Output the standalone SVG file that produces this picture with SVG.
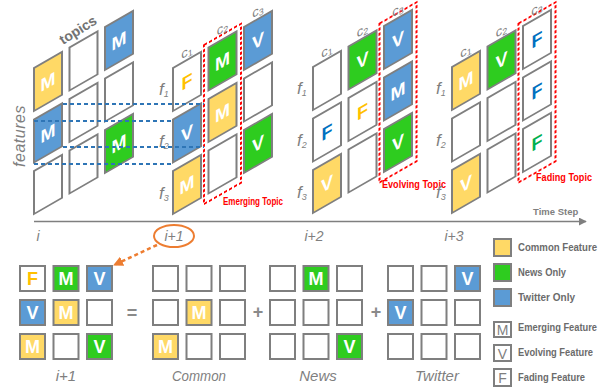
<svg xmlns="http://www.w3.org/2000/svg" width="609" height="389" viewBox="0 0 609 389">
<style>
.c{fill:#fff;stroke:#7f7f7f;stroke-width:2}
.y{fill:#FFD966}.g{fill:#2ECC1F}.b{fill:#5B9BD5}
.L{font-family:"Liberation Sans",Arial,sans-serif;font-weight:bold;font-size:18px;fill:#fff;text-anchor:middle}
.fo{fill:#FFC000}.fb{fill:#0070C0}.fg{fill:#00B050}
.rb{fill:none;stroke:#FF0000;stroke-width:2;stroke-dasharray:3 2}
.rt{font-family:"Liberation Sans",Arial,sans-serif;font-weight:bold;font-size:10.5px;fill:#FF0000}
.cl{font-family:"Liberation Sans",Arial,sans-serif;font-size:13px;fill:#7f7f7f;text-anchor:middle}
.fl{font-family:"Liberation Sans",Arial,sans-serif;font-style:italic;font-size:17px;fill:#7f7f7f}
.sub{font-size:9px}
.tl{font-family:"Liberation Sans",Arial,sans-serif;font-style:italic;font-size:14px;fill:#7f7f7f;text-anchor:middle}
.bl{font-family:"Liberation Sans",Arial,sans-serif;font-style:italic;font-size:15px;fill:#7f7f7f;text-anchor:middle}
.lg{font-family:"Liberation Sans",Arial,sans-serif;font-weight:bold;font-size:10.5px;fill:#6b6b6b}
.lm{font-family:"Liberation Sans",Arial,sans-serif;font-size:14px;fill:#7f7f7f;text-anchor:middle}
.op{font-family:"Liberation Sans",Arial,sans-serif;font-weight:bold;font-size:18px;fill:#8a8a8a;text-anchor:middle}
.bd{fill:none;stroke:#2E75B6;stroke-width:1.8;stroke-dasharray:4 3}
</style>
<defs>
<marker id="ga" viewBox="0 0 10 10" refX="9" refY="5" markerWidth="8" markerHeight="8" markerUnits="userSpaceOnUse" orient="auto"><path d="M0,0 L10,5 L0,10 z" fill="#7f7f7f"/></marker>
<marker id="oa" viewBox="0 0 10 10" refX="9" refY="5" markerWidth="10" markerHeight="10" markerUnits="userSpaceOnUse" orient="auto"><path d="M0,0 L10,5 L0,10 z" fill="#ED7D31"/></marker>
</defs>

<!-- Matrix i -->
<g id="matrix-i" transform="translate(34,68) skewY(-30)">
<rect class="c y" x="0" y="0" width="28" height="43"/><text class="L" x="14" y="28">M</text>
<rect class="c b" x="0" y="51.5" width="28" height="43"/><text class="L" x="14" y="79.5">M</text>
<rect class="c" x="0" y="103" width="28" height="43"/>
<rect class="c" x="35.5" y="0" width="28" height="43"/>
<rect class="c" x="35.5" y="51.5" width="28" height="43"/>
<rect class="c" x="35.5" y="103" width="28" height="43"/>
<rect class="c b" x="71" y="0" width="28" height="43"/><text class="L" x="85" y="28">M</text>
<rect class="c" x="71" y="51.5" width="28" height="43"/>
<rect class="c g" x="71" y="103" width="28" height="43"/><text class="L" x="85" y="131">M</text>
</g>
<g id="axis-labels">
<text transform="translate(63,45) rotate(-32)" font-family="Liberation Sans, Arial, sans-serif" font-weight="bold" font-size="14" fill="#737373">topics</text>
<text transform="translate(25,136) rotate(-90)" font-family="Liberation Sans, Arial, sans-serif" font-style="italic" font-size="16" fill="#7f7f7f" text-anchor="middle" letter-spacing="0.5">features</text>
</g>

<!-- Matrix i+1 -->
<g id="matrix-i1" transform="translate(173,68) skewY(-30)">
<rect class="c" x="0" y="0" width="28" height="43"/><text class="L fo" x="14" y="28">F</text>
<rect class="c b" x="0" y="51.5" width="28" height="43"/><text class="L" x="14" y="79.5">V</text>
<rect class="c y" x="0" y="103" width="28" height="43"/><text class="L" x="14" y="131">M</text>
<rect class="c g" x="35.5" y="0" width="28" height="43"/><text class="L" x="49.5" y="28">M</text>
<rect class="c y" x="35.5" y="51.5" width="28" height="43"/><text class="L" x="49.5" y="79.5">M</text>
<rect class="c" x="35.5" y="103" width="28" height="43"/>
<rect class="c b" x="71" y="0" width="28" height="43"/><text class="L" x="85" y="28">V</text>
<rect class="c" x="71" y="51.5" width="28" height="43"/>
<rect class="c g" x="71" y="103" width="28" height="43"/><text class="L" x="85" y="131">V</text>
<rect class="rb" x="31" y="-5" width="37" height="159"/>
<text class="cl" x="14" y="-4">c<tspan class="sub" dy="2">1</tspan></text>
<text class="cl" x="49.5" y="-7">c<tspan class="sub" dy="2">2</tspan></text>
<text class="cl" x="85" y="-4">c<tspan class="sub" dy="2">3</tspan></text>
</g>
<g id="rows-i1"><text class="fl" x="159" y="95">f<tspan class="sub" dy="2">1</tspan></text><text class="fl" x="159" y="147">f<tspan class="sub" dy="2">2</tspan></text><text class="fl" x="159" y="199">f<tspan class="sub" dy="2">3</tspan></text></g>
<text class="rt" x="223" y="205" textLength="60" lengthAdjust="spacingAndGlyphs">Emerging Topic</text>

<!-- Matrix i+2 -->
<g id="matrix-i2" transform="translate(313,67) skewY(-30)">
<rect class="c" x="0" y="0" width="28" height="43"/>
<rect class="c" x="0" y="51.5" width="28" height="43"/><text class="L fb" x="14" y="79.5">F</text>
<rect class="c y" x="0" y="103" width="28" height="43"/><text class="L" x="14" y="131">V</text>
<rect class="c g" x="35.5" y="0" width="28" height="43"/><text class="L" x="49.5" y="28">V</text>
<rect class="c" x="35.5" y="51.5" width="28" height="43"/><text class="L fo" x="49.5" y="79.5">F</text>
<rect class="c" x="35.5" y="103" width="28" height="43"/>
<rect class="c b" x="71" y="0" width="28" height="43"/><text class="L" x="85" y="28">V</text>
<rect class="c b" x="71" y="51.5" width="28" height="43"/><text class="L" x="85" y="79.5">M</text>
<rect class="c g" x="71" y="103" width="28" height="43"/><text class="L" x="85" y="131">V</text>
<rect class="rb" x="66.5" y="-5" width="37" height="159"/>
<text class="cl" x="14" y="-4">c<tspan class="sub" dy="2">1</tspan></text>
<text class="cl" x="49.5" y="-4">c<tspan class="sub" dy="2">2</tspan></text>
<text class="cl" x="85" y="-4">c<tspan class="sub" dy="2">3</tspan></text>
</g>
<g id="rows-i2"><text class="fl" x="297" y="94">f<tspan class="sub" dy="2">1</tspan></text><text class="fl" x="297" y="146">f<tspan class="sub" dy="2">2</tspan></text><text class="fl" x="297" y="198">f<tspan class="sub" dy="2">3</tspan></text></g>
<text class="rt" x="382" y="188" textLength="64" lengthAdjust="spacingAndGlyphs">Evolving Topic</text>

<!-- Matrix i+3 -->
<g id="matrix-i3" transform="translate(452,67) skewY(-30)">
<rect class="c y" x="0" y="0" width="28" height="43"/><text class="L" x="14" y="28">M</text>
<rect class="c" x="0" y="51.5" width="28" height="43"/>
<rect class="c y" x="0" y="103" width="28" height="43"/><text class="L" x="14" y="131">V</text>
<rect class="c g" x="35.5" y="0" width="28" height="43"/><text class="L" x="49.5" y="28">V</text>
<rect class="c" x="35.5" y="51.5" width="28" height="43"/>
<rect class="c" x="35.5" y="103" width="28" height="43"/>
<rect class="c" x="71" y="0" width="28" height="43"/><text class="L fb" x="85" y="28">F</text>
<rect class="c" x="71" y="51.5" width="28" height="43"/><text class="L fb" x="85" y="79.5">F</text>
<rect class="c" x="71" y="103" width="28" height="43"/><text class="L fg" x="85" y="131">F</text>
<rect class="rb" x="66.5" y="-5" width="37" height="159"/>
<text class="cl" x="14" y="-4">c<tspan class="sub" dy="2">1</tspan></text>
<text class="cl" x="49.5" y="-4">c<tspan class="sub" dy="2">2</tspan></text>
<text class="cl" x="85" y="-5">c<tspan class="sub" dy="2">3</tspan></text>
</g>
<g id="rows-i3"><text class="fl" x="436" y="94">f<tspan class="sub" dy="2">1</tspan></text><text class="fl" x="436" y="146">f<tspan class="sub" dy="2">2</tspan></text><text class="fl" x="436" y="198">f<tspan class="sub" dy="2">3</tspan></text></g>
<text class="rt" x="536" y="181" textLength="56" lengthAdjust="spacingAndGlyphs">Fading Topic</text>

<!-- Connectors -->
<g id="connectors">
<line class="bd" x1="63" y1="104" x2="204" y2="104"/>
<line class="bd" x1="34" y1="121" x2="173" y2="121"/>
<line class="bd" x1="63" y1="147" x2="204" y2="147"/>
<line class="bd" x1="34" y1="164" x2="173" y2="164"/>
<line x1="34" y1="221.5" x2="586" y2="221.5" stroke="#7f7f7f" stroke-width="1.5" marker-end="url(#ga)"/>
<path d="M157,245 L114,265" fill="none" stroke="#ED7D31" stroke-width="2.5" stroke-dasharray="4 3" marker-end="url(#oa)"/>
</g>

<!-- Timeline labels -->
<g id="timeline">
<text font-family="Liberation Sans, Arial, sans-serif" font-weight="bold" font-size="9.5" fill="#7f7f7f" x="533" y="215">Time Step</text>
<text class="tl" x="38" y="241">i</text>
<ellipse cx="174" cy="236" rx="20" ry="11" fill="none" stroke="#ED7D31" stroke-width="2"/>
<text class="tl" x="174" y="241">i+1</text>
<text class="tl" x="314" y="241">i+2</text>
<text class="tl" x="454" y="241">i+3</text>
</g>

<!-- Bottom decomposition -->
<g id="grid-i1" transform="translate(20,266)">
<rect class="c" x="0" y="0" width="25" height="25"/><text class="L fo" x="12.5" y="19">F</text>
<rect class="c g" x="33.5" y="0" width="25" height="25"/><text class="L" x="46" y="19">M</text>
<rect class="c b" x="67" y="0" width="25" height="25"/><text class="L" x="79.5" y="19">V</text>
<rect class="c b" x="0" y="34" width="25" height="25"/><text class="L" x="12.5" y="53">V</text>
<rect class="c y" x="33.5" y="34" width="25" height="25"/><text class="L" x="46" y="53">M</text>
<rect class="c" x="67" y="34" width="25" height="25"/>
<rect class="c y" x="0" y="68" width="25" height="25"/><text class="L" x="12.5" y="87">M</text>
<rect class="c" x="33.5" y="68" width="25" height="25"/>
<rect class="c g" x="67" y="68" width="25" height="25"/><text class="L" x="79.5" y="87">V</text>
</g>
<text class="bl" x="66" y="381">i+1</text>
<text class="op" x="132" y="319">=</text>
<g id="grid-common" transform="translate(153,266)">
<rect class="c" x="0" y="0" width="25" height="25"/>
<rect class="c" x="33.5" y="0" width="25" height="25"/>
<rect class="c" x="67" y="0" width="25" height="25"/>
<rect class="c" x="0" y="34" width="25" height="25"/>
<rect class="c y" x="33.5" y="34" width="25" height="25"/><text class="L" x="46" y="53">M</text>
<rect class="c" x="67" y="34" width="25" height="25"/>
<rect class="c y" x="0" y="68" width="25" height="25"/><text class="L" x="12.5" y="87">M</text>
<rect class="c" x="33.5" y="68" width="25" height="25"/>
<rect class="c" x="67" y="68" width="25" height="25"/>
</g>
<text class="bl" x="199" y="381" textLength="54" lengthAdjust="spacingAndGlyphs">Common</text>
<text class="op" x="258" y="318">+</text>
<g id="grid-news" transform="translate(270,266)">
<rect class="c" x="0" y="0" width="25" height="25"/>
<rect class="c g" x="33.5" y="0" width="25" height="25"/><text class="L" x="46" y="19">M</text>
<rect class="c" x="67" y="0" width="25" height="25"/>
<rect class="c" x="0" y="34" width="25" height="25"/>
<rect class="c" x="33.5" y="34" width="25" height="25"/>
<rect class="c" x="67" y="34" width="25" height="25"/>
<rect class="c" x="0" y="68" width="25" height="25"/>
<rect class="c" x="33.5" y="68" width="25" height="25"/>
<rect class="c g" x="67" y="68" width="25" height="25"/><text class="L" x="79.5" y="87">V</text>
</g>
<text class="bl" x="318" y="381">News</text>
<text class="op" x="376" y="318">+</text>
<g id="grid-twitter" transform="translate(388,266)">
<rect class="c" x="0" y="0" width="25" height="25"/>
<rect class="c" x="33.5" y="0" width="25" height="25"/>
<rect class="c b" x="67" y="0" width="25" height="25"/><text class="L" x="79.5" y="19">V</text>
<rect class="c b" x="0" y="34" width="25" height="25"/><text class="L" x="12.5" y="53">V</text>
<rect class="c" x="33.5" y="34" width="25" height="25"/>
<rect class="c" x="67" y="34" width="25" height="25"/>
<rect class="c" x="0" y="68" width="25" height="25"/>
<rect class="c" x="33.5" y="68" width="25" height="25"/>
<rect class="c" x="67" y="68" width="25" height="25"/>
</g>
<text class="bl" x="437" y="381">Twitter</text>

<!-- Legend -->
<g id="legend">
<rect class="c y" x="494" y="239" width="17" height="17"/><text class="lg" x="518" y="251" textLength="79" lengthAdjust="spacingAndGlyphs">Common Feature</text>
<rect class="c g" x="494" y="264" width="17" height="17"/><text class="lg" x="518" y="276" textLength="48" lengthAdjust="spacingAndGlyphs">News Only</text>
<rect class="c b" x="494" y="289" width="17" height="17"/><text class="lg" x="518" y="301" textLength="57" lengthAdjust="spacingAndGlyphs">Twitter Only</text>
<rect class="c" x="494" y="322" width="17" height="15"/><text class="lm" x="502.5" y="335">M</text><text class="lg" x="518" y="331" textLength="79" lengthAdjust="spacingAndGlyphs">Emerging Feature</text>
<rect class="c" x="494" y="345" width="17" height="16"/><text class="lm" x="502.5" y="358.5">V</text><text class="lg" x="518" y="356" textLength="75" lengthAdjust="spacingAndGlyphs">Evolving Feature</text>
<rect class="c" x="494" y="369" width="17" height="17"/><text class="lm" x="502.5" y="383">F</text><text class="lg" x="518" y="381" textLength="67" lengthAdjust="spacingAndGlyphs">Fading Feature</text>
</g>
</svg>
